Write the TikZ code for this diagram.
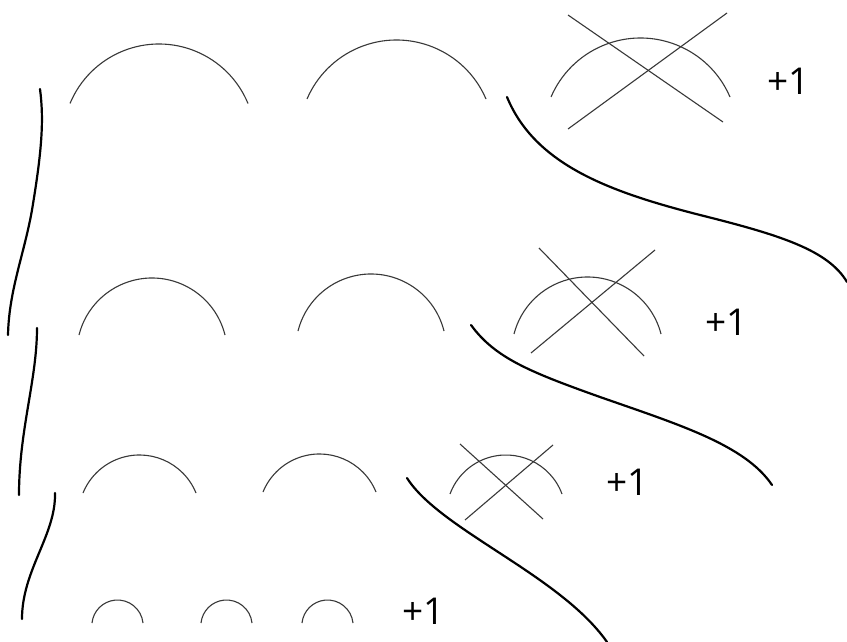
\documentclass[tikz,border=0pt]{standalone}
\usepackage{fontspec}
\setmainfont{Open Sans}
\newcommand\drawhump[4]{%
  \pgfmathsetmacro\hc{(#2-#1)/2}%
  \pgfmathsetmacro\sg{#3-#4}%
  \pgfmathsetmacro\rr{(\hc*\hc+\sg*\sg)/(2*\sg)}%
  \pgfmathsetmacro\th{asin((\rr-\sg)/\rr)}%
  \draw[humpline] (#2,#3) arc[start angle=-\th, end angle=-180+\th, radius=\rr];%
}
\begin{document}
\begin{tikzpicture}[x=1pt,y=-1pt,
  humpline/.style={line width=1.1pt, draw=black!78},
  crossline/.style={line width=1.1pt, draw=black!78},
  wave/.style={line width=2.2pt, draw=black, line cap=round},
  plus/.style={inner sep=0pt, font=\fontsize{37}{40}\selectfont}]
\useasboundingbox (0,0) rectangle (847,642);
\fill[white] (0,0) rectangle (847,642);

% row 1
\drawhump{70}{248}{103.5}{44}
\drawhump{307}{486}{99}{40}
\drawhump{551}{730}{97}{38}
\draw[crossline] (568,15) -- (723,122);
\draw[crossline] (727,13) -- (568,129);
\node[plus] (p1) at (788.5,81.5) {+1};

% row 2
\drawhump{79}{225}{335}{278}
\drawhump{298}{444}{331}{274}
\drawhump{514}{661}{334}{277}
\draw[crossline] (539,248) -- (644,356);
\draw[crossline] (655,250) -- (531,353);
\node[plus] (p2) at (726.5,322) {+1};

% row 3
\drawhump{83}{196}{493}{455}
\drawhump{263}{376}{492}{454}
\drawhump{450}{562}{494}{455}
\draw[crossline] (460,444) -- (543,519);
\draw[crossline] (553,445) -- (465,520);
\node[plus] (p3) at (627.5,482) {+1};

% row 4
\drawhump{92}{143}{623}{600}
\drawhump{201}{252}{623}{600}
\drawhump{302}{353}{623}{600}
\node[plus] (p4) at (423.5,611) {+1};

% S curves
\draw[wave] (507,97) .. controls (535,165) and (610,192) .. (700,215)
                     .. controls (780,235) and (828,250) .. (847,282);
\draw[wave] (471,325) .. controls (495,358) and (530,372) .. (600,397)
                      .. controls (680,425) and (745,445) .. (772,485);
\draw[wave] (407,478) .. controls (440,530) and (560,575) .. (607,642);

% left curves
\draw[wave] (40,89) .. controls (44,120) and (42,150) .. (32,210)
                    .. controls (24,255) and (9,290) .. (8,335);
\draw[wave] (37,328) .. controls (37,380) and (19,430) .. (19,495);
\draw[wave] (55,493) .. controls (56,535) and (22,570) .. (22,619);
\end{tikzpicture}
\end{document}
